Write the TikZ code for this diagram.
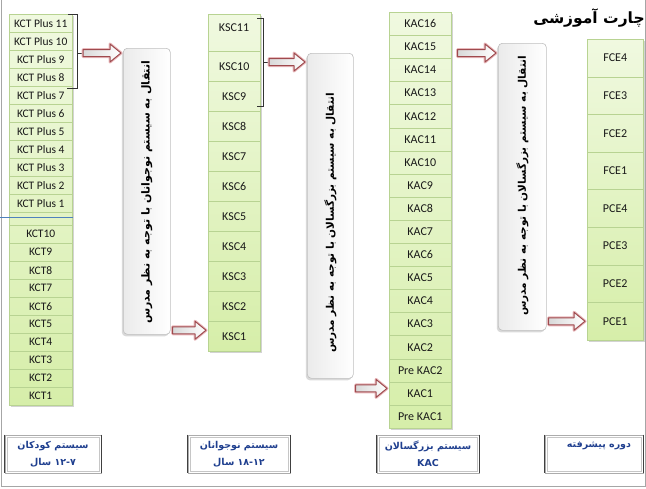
\documentclass[tikz,border=0pt]{standalone}
\usepackage{fontspec}
\setmainfont{Carlito}
\newfontfamily\arabicfont[Script=Arabic]{DejaVu Sans}
\TeXXeTstate=1
\usetikzlibrary{shadows,calc}
\definecolor{cellfilltop}{HTML}{F0F9E0}
\definecolor{cellfillbot}{HTML}{D6EEA9}
\definecolor{cellline}{HTML}{B8D392}
\definecolor{arrowred}{HTML}{9E4A4E}
\definecolor{arrowglowc}{HTML}{E9B9BC}
\definecolor{navy}{HTML}{1F3F8F}
\definecolor{bluerule}{HTML}{4F81BD}
\tikzset{
  colbg/.style={top color=cellfilltop, bottom color=cellfillbot, draw=cellline!85!black, line width=0.6pt,
    drop shadow={shadow xshift=1.5pt, shadow yshift=-1.5pt, opacity=0.35}},
  cell/.style={draw=cellline, line width=0.5pt, inner sep=0pt, anchor=north west, text=black!90,
    font=\fontsize{12}{13}\selectfont},
  celltext/.style={inner sep=0pt, text=black!90, font=\fontsize{12}{13}\selectfont},
  bracketline/.style={draw=black!80, line width=0.8pt},
  arrowglow/.style={draw=arrowglowc, line width=3pt, line join=round},
  arrowbody/.style={draw=arrowred, line width=1pt, left color=gray!30, right color=white, line join=round},
  vbox/.style={draw=gray!50, line width=0.6pt, left color=gray!16, right color=white, rounded corners=4pt,
    anchor=north west, inner sep=0pt, drop shadow={shadow xshift=-1.5pt, shadow yshift=-2pt, opacity=0.3}},
  vtext/.style={rotate=90, inner sep=0pt, font=\arabicfont\bfseries\fontsize{11}{13}\selectfont},
  bbox/.style={draw=gray!65, line width=0.6pt, inner sep=0pt, fill=white},
  binner/.style={draw=gray!45, line width=0.5pt},
  bedge/.style={draw=black!75, line width=1.3pt},
  btext/.style={anchor=north, inner sep=0pt, align=center, text=navy,
    font=\arabicfont\bfseries\fontsize{9.5}{17}\selectfont},
  framestyle/.style={draw=gray!70, line width=0.8pt},
}
\newcommand{\arrowshape}[2]{let \p1=(#1), \p2=(#2) in
  (\x1,{\y1+3.5pt}) -- ({\x2-11pt},{\y1+3.5pt}) -- ({\x2-11pt},{\y1+9pt}) -- (\x2,\y1)
  -- ({\x2-11pt},{\y1-9pt}) -- ({\x2-11pt},{\y1-3.5pt}) -- (\x1,{\y1-3.5pt}) -- cycle}
\newcommand{\blockarrow}[2]{%
  \path[arrowglow] \arrowshape{#1}{#2};
  \path[arrowbody] \arrowshape{#1}{#2};}
\newcommand{\bottombox}[1]{%
  \draw[binner] ($(#1.north west)+(2.5,2.5)$) rectangle ($(#1.south east)+(-2.5,-2.5)$);
  \draw[bedge] (#1.north west) -- (#1.south west);
  \draw[bedge] (#1.north east) -- (#1.south east);}
\begin{document}
\begin{tikzpicture}[x=1pt, y=-1pt]
\useasboundingbox (0,0) rectangle (646,488);
% frame
\coordinate (fTL) at (1,0);
\coordinate (fBL) at (1,486);
\coordinate (fBR) at (645,486);
\coordinate (fTR) at (645,0);
\draw[framestyle] (fTL) -- (fBL) -- (fBR) -- (fTR);

% ---------- column 1 ----------
\path[colbg] (9,14) rectangle (72,405);
\foreach \k [count=\i from 0] in {11,10,9,8,7,6,5,4,3,2,1}
  \node[cell, minimum width=63pt, minimum height=18pt, font=\fontsize{11.5}{12}\selectfont] (kp\k) at (9,{14+18*\i}) {KCT Plus \k};
\node[cell, minimum width=63pt, minimum height=13pt] (kgap) at (9,212) {};
\foreach \k [count=\i from 0] in {10,9,8,7,6,5,4,3,2,1}
  \node[cell, minimum width=63pt, minimum height=18pt, font=\fontsize{11.5}{12}\selectfont] (kct\k) at (9,{225+18*\i}) {KCT\k};
\coordinate (blueL) at (0,217);
\draw[bluerule, line width=0.6pt] (blueL) -- (blueL -| kgap.east);

% bracket 1
\coordinate (br1top) at (77,14);
\coordinate (br1bot) at (77,88);
\coordinate (br1mid) at (77,53);
\draw[bracketline] ($(br1top)+(-9,0)$) -- (br1top) -- (br1bot) -- ++(-10,0);
\draw[bracketline] (br1mid) -- ++(5,0);

% vertical box 1
\node[vbox, minimum width=47pt, minimum height=286pt] (box1) at (123,48) {};
\node[vtext] (t1) at ($(box1.center)+(0,1)$) {\beginR انتقال به سیستم نوجوانان با توجه به نظر مدرس\endR};

% ---------- column 2 ----------
\path[colbg] (208,14) rectangle (260,351);
\node[cell, minimum width=52pt, minimum height=37pt] (ksc11) at (208,14) {};
\node[celltext] (ksc11t) at (234,28) {KSC11};
\foreach \k [count=\i from 0] in {10,9,8,7,6,5,4,3,2,1}
  \node[cell, minimum width=52pt, minimum height=30pt] (ksc\k) at (208,{51+30*\i}) {KSC\k};

% bracket 2
\coordinate (br2top) at (263,18);
\coordinate (br2bot) at (263,106);
\coordinate (br2mid) at (263,62);
\draw[bracketline] ($(br2top)+(-6,0)$) -- (br2top) -- (br2bot) -- ++(-6,0);
\draw[bracketline] (br2mid) -- ++(5,0);

% vertical box 2
\node[vbox, minimum width=46pt, minimum height=325pt] (box2) at (307,53) {};
\node[vtext, font=\arabicfont\bfseries\fontsize{10.5}{13}\selectfont] (t2) at ($(box2.center)+(0,7)$) {\beginR انتقال به سیستم بزرگسالان با توجه به نظر مدرس\endR};

% ---------- column 3 ----------
\path[colbg] (389,12) rectangle (451,428);
\foreach \t/\n [count=\i from 0] in {KAC16/kac16,KAC15/kac15,KAC14/kac14,KAC13/kac13,KAC12/kac12,KAC11/kac11,KAC10/kac10,KAC9/kac9,KAC8/kac8,KAC7/kac7,KAC6/kac6,KAC5/kac5,KAC4/kac4,KAC3/kac3,KAC2/kac2,Pre KAC2/prekac2,KAC1/kac1,Pre KAC1/prekac1}
  \node[cell, minimum width=62pt, minimum height=23.1pt] (\n) at (389,{12+23.1*\i}) {\t};

% vertical box 3
\node[vbox, minimum width=48pt, minimum height=287pt] (box3) at (498,43) {};
\node[vtext, font=\arabicfont\bfseries\fontsize{10.5}{13}\selectfont] (t3) at ($(box3.center)+(0,-1)$) {\beginR انتقال به سیستم بزرگسالان با توجه به نظر مدرس\endR};

% ---------- column 4 ----------
\path[colbg] (587,39) rectangle (643,340);
\foreach \t/\n [count=\i from 0] in {FCE4/fce4,FCE3/fce3,FCE2/fce2,FCE1/fce1,PCE4/pce4,PCE3/pce3,PCE2/pce2,PCE1/pce1}
  \node[cell, minimum width=56pt, minimum height=37.6pt] (\n) at (587,{39+37.6*\i}) {\t};

% title
\node[inner sep=0pt, font=\arabicfont\bfseries\fontsize{15.5}{18}\selectfont] (title) at (589,18) {\beginR چارت آموزشی\endR};

% ---------- arrows ----------
\coordinate (a1s) at ($(br1mid)+(6,0)$);
\coordinate (a1e) at ($(box1.west |- br1mid)+(-2,0)$);
\blockarrow{a1s}{a1e}
\coordinate (a2s) at ($(box1.east |- ksc1.west)+(2,-6)$);
\coordinate (a2e) at ($(ksc1.west)+(-2,-6)$);
\blockarrow{a2s}{a2e}
\coordinate (a3s) at ($(br2mid)+(6,0)$);
\coordinate (a3e) at ($(box2.west |- br2mid)+(-2,0)$);
\blockarrow{a3s}{a3e}
\coordinate (a4s) at ($(box2.east |- kac1.west)+(2,-5)$);
\coordinate (a4e) at ($(kac1.west)+(-2,-5)$);
\blockarrow{a4s}{a4e}
\coordinate (a5s) at ($(kac16.east |- box3.north)+(6,10)$);
\coordinate (a5e) at ($(box3.west |- a5s)+(-2,0)$);
\blockarrow{a5s}{a5e}
\coordinate (a6s) at ($(box3.east |- pce1.west)+(2,0)$);
\coordinate (a6e) at ($(pce1.west)+(-2,0)$);
\blockarrow{a6s}{a6e}

% ---------- bottom boxes ----------
\node[bbox, minimum width=96pt, minimum height=38pt] (bx1) at (53,454) {};
\node[bbox, minimum width=102pt, minimum height=38pt] (bx2) at (239,454) {};
\node[bbox, minimum width=102pt, minimum height=38pt] (bx3) at (428,454) {};
\node[bbox, minimum width=98pt, minimum height=38pt] (bx4) at (594,454) {};
\bottombox{bx1}
\bottombox{bx2}
\bottombox{bx3}
\bottombox{bx4}
\node[btext] (bt1) at ($(bx1.north)+(0,6)$) {\beginR سیستم کودکان\endR\\\beginR\beginL ۱۲-۷\endL{} سال\endR};
\node[btext] (bt2) at ($(bx2.north)+(0,6)$) {\beginR سیستم نوجوانان\endR\\\beginR\beginL ۱۸-۱۲\endL{} سال\endR};
\node[btext] (bt3) at ($(bx3.north)+(0,6)$) {\beginR سیستم بزرگسالان\endR\\KAC};
\node[btext] (bt4) at ($(bx4.north)+(5,7)$) {\beginR دوره پیشرفته\endR};
\end{tikzpicture}
\end{document}
